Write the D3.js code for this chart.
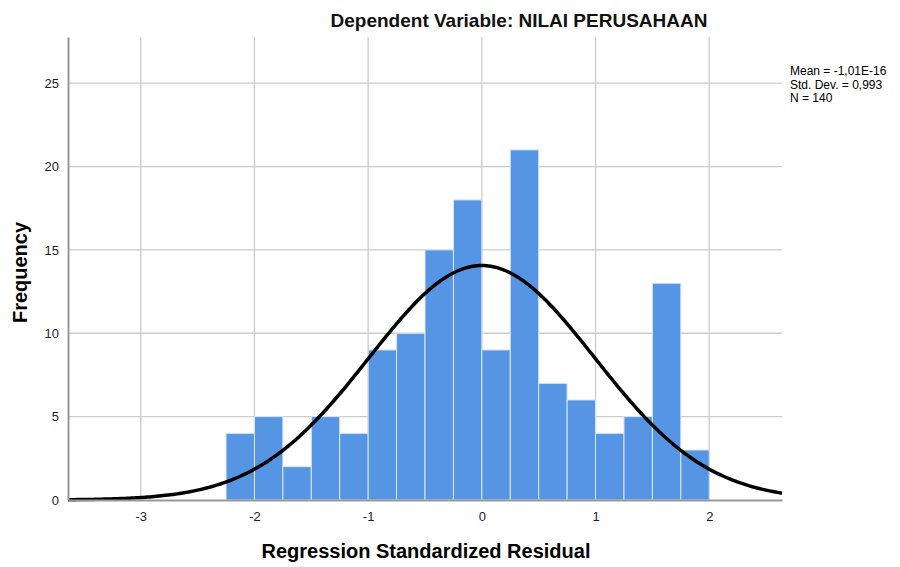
<!DOCTYPE html>
<html>
<head>
<meta charset="utf-8">
<script src="https://cdn.jsdelivr.net/npm/d3@7"></script>
<style>
  body { margin: 0; background: #fff; }
  svg { font-family: Arial, "Liberation Sans", sans-serif; }
</style>
</head>
<body>
<svg width="900" height="567"></svg>
<script>
// histogram bins (lower edge) and counts
const binStart = [-2.25, -2, -1.75, -1.5, -1.25, -1, -0.75, -0.5, -0.25, 0, 0.25, 0.5, 0.75, 1, 1.25, 1.5, 1.75];
const counts = [4, 5, 2, 5, 4, 9, 10, 15, 18, 9, 21, 7, 6, 4, 5, 13, 3];
const binWidth = 0.25;
const xTicks = [-3, -2, -1, 0, 1, 2];
const yTicks = [0, 5, 10, 15, 20, 25];
const stats = { mean: -1.01e-16, sd: 0.993, n: 140 };
const statLines = ["Mean = -1,01E-16", "Std. Dev. = 0,993", "N = 140"];

const svg = d3.select("svg");
const margin = { top: 37, right: 118, bottom: 67, left: 68 };
const width = 900 - margin.left - margin.right,
    height = 567 - margin.top - margin.bottom;

const x = d3.scaleLinear().domain([-3.64, 2.64]).range([0, width]);
const y = d3.scaleLinear().domain([0, 27.77]).range([height, 0]);

const g = svg.append("g")
  .attr("transform", "translate(" + margin.left + "," + margin.top + ")");

// grid
g.selectAll(".vgrid")
  .data(xTicks)
  .enter().append("line")
  .attr("x1", d => x(d)).attr("x2", d => x(d))
  .attr("y1", 0).attr("y2", height)
  .attr("stroke", "#cccccc").attr("stroke-width", 1.3);

g.selectAll(".hgrid")
  .data(yTicks.slice(1))
  .enter().append("line")
  .attr("x1", 0).attr("x2", width)
  .attr("y1", d => y(d)).attr("y2", d => y(d))
  .attr("stroke", "#cccccc").attr("stroke-width", 1.3);

// bars
g.selectAll(".bar")
  .data(binStart)
  .enter().append("rect")
  .attr("class", "bar")
  .attr("x", d => x(d))
  .attr("y", (d, i) => y(counts[i]))
  .attr("width", x(binWidth) - x(0))
  .attr("height", (d, i) => height - y(counts[i]))
  .attr("fill", "#5595e3")
  .attr("stroke", "#dbe7f5")
  .attr("stroke-width", 1);

// normal curve
const xs = d3.range(-3.64, 2.645, 0.02);
const curve = d3.line()
  .x(d => x(d))
  .y(d => y(stats.n * binWidth / (stats.sd * Math.sqrt(2 * Math.PI)) *
    Math.exp(-0.5 * Math.pow((d - stats.mean) / stats.sd, 2))));

g.append("path")
  .datum(xs)
  .attr("d", curve)
  .attr("fill", "none")
  .attr("stroke", "#000")
  .attr("stroke-width", 3.5);

// axes
const fmt = d => String(d);
const xAxis = g.append("g")
  .attr("transform", "translate(0," + height + ")")
  .call(d3.axisBottom(x).tickValues(xTicks).tickFormat(fmt).tickSize(0).tickPadding(12));
xAxis.select(".domain").attr("stroke", "#999").attr("stroke-width", 2);

const yAxis = g.append("g")
  .call(d3.axisLeft(y).tickValues(yTicks).tickFormat(fmt).tickSize(0).tickPadding(9));
yAxis.select(".domain").attr("stroke", "#999").attr("stroke-width", 2);

svg.selectAll(".tick text")
  .attr("font-size", 13)
  .attr("font-family", "Arial, 'Liberation Sans', sans-serif")
  .attr("fill", "#222");

// titles
svg.append("text")
  .attr("x", 519).attr("y", 27)
  .attr("text-anchor", "middle")
  .style("font-size", "19px").style("font-weight", "bold").style("fill", "#111")
  .text("Dependent Variable: NILAI PERUSAHAAN");

svg.append("text")
  .attr("x", margin.left + width / 2 + 1).attr("y", 558)
  .attr("text-anchor", "middle")
  .style("font-size", "20px").style("font-weight", "bold")
  .text("Regression Standardized Residual");

svg.append("text")
  .attr("transform", "translate(27," + (margin.top + height / 2 + 4) + ") rotate(-90)")
  .attr("text-anchor", "middle")
  .style("font-size", "20px").style("font-weight", "bold")
  .text("Frequency");

svg.selectAll(".stat")
  .data(statLines)
  .enter().append("text")
  .attr("x", 790)
  .attr("y", (d, i) => 75 + i * 13.5)
  .style("font-size", "12px")
  .text(d => d);
</script>
</body>
</html>
